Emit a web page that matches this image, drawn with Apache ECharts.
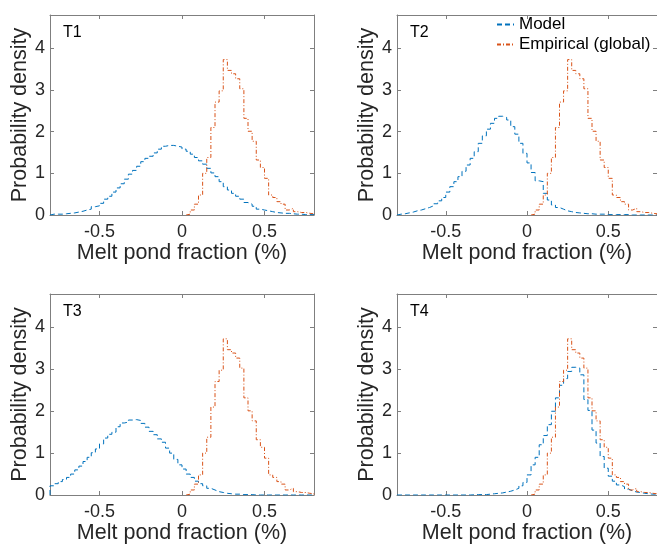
<!DOCTYPE html>
<html><head><meta charset="utf-8">
<script src="https://cdn.jsdelivr.net/npm/echarts@6/dist/echarts.min.js"></script>
<style>html,body{margin:0;padding:0;background:#fff}#c{width:657px;height:545px}</style>
</head><body><div id="c"></div>
<script>
// ---- data ----
const binWidth = 0.025;
const modelStart = -0.8;      // first model bin edge
const empStart = 0.025;       // first empirical bin edge
const xTicks = [-0.5, 0, 0.5];
const yTicks = [0, 1, 2, 3, 4];
const panelNames = ['T1', 'T2', 'T3', 'T4'];
const seriesNames = ['Model', 'Empirical (global)'];

const modelT1 = [0.02,0.02,0.02,0.03,0.04,0.05,0.07,0.09,0.12,0.14,0.2,0.22,0.28,0.38,0.45,0.55,0.65,0.75,0.86,0.98,1.07,1.17,1.28,1.36,1.41,1.49,1.58,1.65,1.67,1.67,1.65,1.63,
  1.58,1.53,1.46,1.38,1.3,1.22,1.12,1.01,0.92,0.8,0.68,0.6,0.52,0.45,0.38,0.3,0.26,0.21,0.14,0.12,0.1,0.08,0.06,0.05,0.04,0.04,0.03,0.02,0.02,0.01,0.01,0.01];
const modelT2 = [0.02,0.03,0.05,0.07,0.1,0.12,0.15,0.18,0.22,0.27,0.34,0.42,0.55,0.68,0.8,0.92,1.05,1.2,1.36,1.52,1.72,1.9,2.06,2.2,2.32,2.37,2.34,2.28,2.12,1.94,1.72,1.48,
  1.25,1.02,0.82,0.8,0.52,0.36,0.24,0.18,0.14,0.1,0.08,0.06,0.05,0.04,0.03,0.03,0.02,0.02,0.02,0.01,0.01,0.01,0.01,0.01,0.01,0,0,0,0,0,0,0];
const modelT3 = [0.22,0.27,0.32,0.37,0.42,0.5,0.6,0.69,0.8,0.9,1.01,1.1,1.22,1.36,1.45,1.5,1.63,1.72,1.74,1.79,1.8,1.78,1.71,1.62,1.52,1.44,1.34,1.26,1.12,1.0,0.85,0.72,
  0.62,0.5,0.42,0.33,0.27,0.22,0.16,0.12,0.08,0.06,0.04,0.03,0.02,0.02,0.01,0.01,0.01,0,0,0,0,0,0,0,0,0,0,0,0,0,0,0];
const modelT4 = [0,0,0,0,0,0,0,0,0,0,0,0,0,0,0,0,0,0,0.005,0.01,0.01,0.01,0.02,0.03,0.04,0.05,0.07,0.09,0.12,0.16,0.22,0.3,
  0.48,0.72,0.9,1.2,1.42,1.68,2.0,2.32,2.62,2.78,2.95,3.05,3.03,2.87,2.28,2.02,1.55,1.24,0.92,0.64,0.45,0.33,0.24,0.2,0.14,0.1,0.07,0.06,0.04,0.03,0.02,0.02];
const empirical = [0.02,0.12,0.26,0.48,1.0,1.38,2.1,2.71,2.98,3.73,3.47,3.39,3.27,3.03,2.32,2.01,1.77,1.32,1.14,0.88,0.48,0.42,0.32,0.26,0.12,0.16,0.08,0.06,0.06,0.04,0.03];

const models = [modelT1, modelT2, modelT3, modelT4];

// ---- build ----
function stairs(start, vals) {
  const d = [[start, 0]];
  vals.forEach((v, i) => d.push([start + i * binWidth, v]));
  const end = start + vals.length * binWidth;
  d.push([end, vals[vals.length - 1]]);
  d.push([end, 0]);
  return d;
}

const FONT = 'Liberation Sans, Arial, Helvetica, sans-serif';
const frame = '#7f7f7f';
const txt = '#262626';
const grids = [
  {left: 50, top: 15, width: 264, height: 200},
  {left: 397, top: 15, width: 264, height: 200},
  {left: 50, top: 294, width: 264, height: 201},
  {left: 397, top: 294, width: 264, height: 201}
];

const xAxis = [], yAxis = [], series = [], title = [];
grids.forEach((g, i) => {
  const lineStyle = {color: frame, width: 1};
  xAxis.push({
    type: 'value', gridIndex: i, min: -0.8, max: 0.8, position: 'bottom',
    axisLine: {show: true, onZero: false, lineStyle},
    axisTick: {show: true, inside: true, length: 4, customValues: xTicks, lineStyle},
    axisLabel: {customValues: xTicks, fontSize: 18, color: txt, margin: 8, fontFamily: FONT,
      formatter: v => String(v)},
    splitLine: {show: false},
    name: 'Melt pond fraction (%)', nameLocation: 'middle', nameGap: 26,
    nameTextStyle: {fontSize: 21.5, color: txt, fontFamily: FONT}
  });
  xAxis.push({
    type: 'value', gridIndex: i, min: -0.8, max: 0.8, position: 'top',
    axisLine: {show: true, onZero: false, lineStyle},
    axisTick: {show: true, inside: true, length: 4, customValues: xTicks, lineStyle},
    axisLabel: {show: false}, splitLine: {show: false}
  });
  yAxis.push({
    type: 'value', gridIndex: i, min: 0, max: 4.8, position: 'left',
    axisLine: {show: true, onZero: false, lineStyle},
    axisTick: {show: true, inside: true, length: 4, customValues: yTicks, lineStyle},
    axisLabel: {customValues: yTicks, fontSize: 18, color: txt, margin: 5, fontFamily: FONT},
    splitLine: {show: false},
    name: 'Probability density', nameLocation: 'middle', nameGap: 19,
    nameTextStyle: {fontSize: 21.5, color: txt, fontFamily: FONT}
  });
  yAxis.push({
    type: 'value', gridIndex: i, min: 0, max: 4.8, position: 'right',
    axisLine: {show: true, onZero: false, lineStyle},
    axisTick: {show: true, inside: true, length: 4, customValues: yTicks, lineStyle},
    axisLabel: {show: false}, splitLine: {show: false}
  });
  series.push({
    type: 'line', name: seriesNames[0], xAxisIndex: 2 * i, yAxisIndex: 2 * i,
    data: stairs(modelStart, models[i]), step: 'end', symbol: 'none', showSymbol: false,
    lineStyle: {color: '#0072BD', width: 1, type: [5, 3]}, itemStyle: {color: '#0072BD'},
    animation: false, silent: true
  });
  series.push({
    type: 'line', name: seriesNames[1], xAxisIndex: 2 * i, yAxisIndex: 2 * i,
    data: stairs(empStart, empirical), step: 'end', symbol: 'none', showSymbol: false,
    lineStyle: {color: '#D95319', width: 1, type: [4, 2, 1, 2]}, itemStyle: {color: '#D95319'},
    animation: false, silent: true
  });
  title.push({
    text: panelNames[i], left: g.left + 13, top: g.top + 10, padding: 0,
    textStyle: {fontSize: 16, fontWeight: 'normal', color: '#000', fontFamily: FONT}
  });
});

const chart = echarts.init(document.getElementById('c'), null, {renderer: 'canvas'});
chart.setOption({
  backgroundColor: '#fff',
  animation: false,
  title,
  grid: grids,
  xAxis, yAxis, series,
  legend: {
    data: seriesNames, orient: 'vertical', left: 496, top: 16,
    itemWidth: 17, itemHeight: 14, itemGap: 3, padding: 0,
    itemStyle: {opacity: 0},
    textStyle: {fontSize: 17, color: '#000', fontFamily: FONT},
    selectedMode: false
  }
});
</script>
</body></html>
